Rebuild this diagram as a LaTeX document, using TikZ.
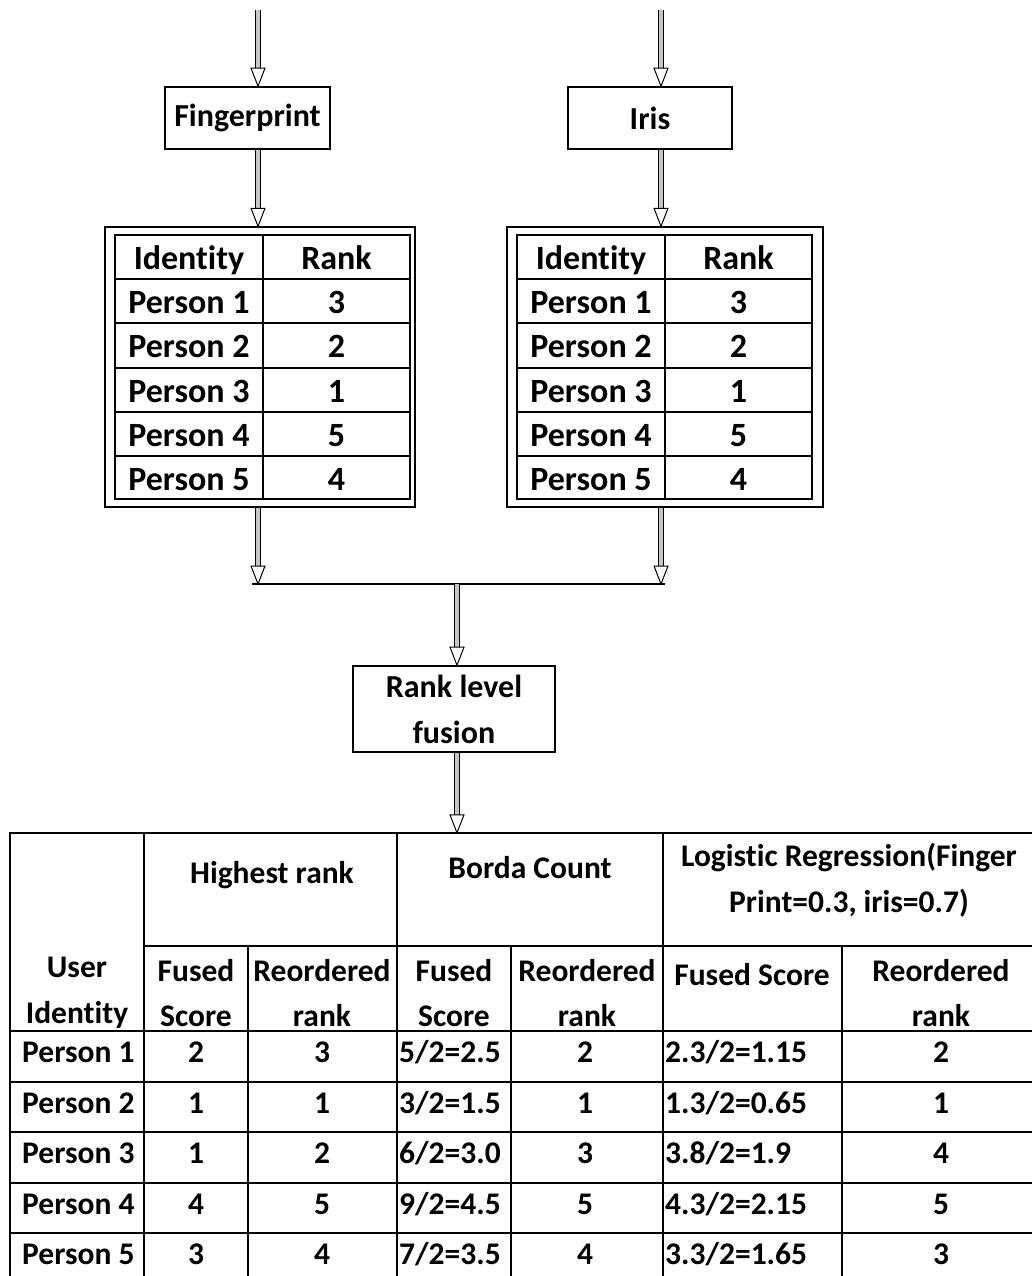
\documentclass[tikz,border=0pt]{standalone}
\usepackage{fontspec}
\setmainfont{Carlito}[Ligatures=NoCommon]
\usetikzlibrary{decorations.markings}
\newcommand\fxBox{\fontsize{32}{46}\selectfont\bfseries}
\newcommand\fxTab{\fontsize{34}{40}\selectfont\bfseries}
\newcommand\fxRes{\fontsize{31.5}{45.5}\selectfont\bfseries}
\begin{document}
\begin{tikzpicture}[x=1pt,y=-1pt,
  grid/.style={line width=1.6pt, line cap=rect},
  box/.style={draw, line width=1.6pt, rectangle, inner sep=0pt, font=\fxBox, align=center},
  frame/.style={draw, line width=1.4pt, rectangle, inner sep=0pt},
  tcell/.style={inner sep=0pt, anchor=base, font=\fxTab},
  rcell/.style={inner sep=0pt, anchor=base, font=\fxRes},
  rhead/.style={inner sep=0pt, anchor=center, font=\fxRes, align=center},
  dbl/.style={draw=none,
    postaction={draw=black, line width=0.9pt, double=gray!45, double distance=3.4pt, shorten >=16pt},
    postaction={decorate, decoration={markings, mark=at position 1 with {
      \draw[black, line width=1pt, fill=white, line join=miter] (0pt,0pt) -- (-18pt,7pt) -- (-18pt,-7pt) -- cycle;}}}},
  ]
  \clip (0,0) rectangle (1032,1276);
  \fill[white] (0,0) rectangle (1032,1276);

  % modality boxes
  \node[box, minimum width=165pt, minimum height=62pt] (fp) at (247.5,118) {Fingerprint};
  \node[box, minimum width=164pt, minimum height=62pt] (ir) at (650,118) {Iris};

  % framed rank lists
  \node[frame, minimum width=310pt, minimum height=280pt] (fpTab) at (260,367) {};
  \node[frame, minimum width=316pt, minimum height=280pt] (irTab) at (665,367) {};
  \foreach \t/\dx in {fp/0, ir/402} {
    \begin{scope}[xshift=\dx pt]
      \draw[grid] (115,235) rectangle (410,499);
      \draw[grid] (263,235) -- (263,499);
      \foreach \y in {279,323,368,412,456} \draw[grid] (115,\y) -- (410,\y);
      \node[tcell] (\t-h1) at (189,269) {Identity};
      \node[tcell] (\t-h2) at (336.5,269) {Rank};
      \foreach \i/\r/\y in {1/3/313, 2/2/357, 3/1/402, 4/5/446, 5/4/490} {
        \node[tcell] (\t-p\i) at (189,\y) {Person \i};
        \node[tcell] (\t-r\i) at (336.5,\y) {\r};
      }
    \end{scope}
  }

  % fusion box
  \node[box, minimum width=202pt, minimum height=86pt] (fus) at (454,709) {Rank level\\fusion};

  % result table
  \node[inner sep=0pt, minimum width=1030pt, minimum height=450pt] (res) at (525,1058) {};
  \draw[grid] (10,833) rectangle (1040,1283);
  \draw[grid] (144,946) -- (1040,946);
  \foreach \y in {1031,1082,1132,1183,1233} \draw[grid] (10,\y) -- (1040,\y);
  \foreach \x in {144,397,663} \draw[grid] (\x,833) -- (\x,1283);
  \foreach \x in {248,511,842} \draw[grid] (\x,946) -- (\x,1283);

  \node[rcell] (hHR) at (272,883) {Highest rank};
  \node[rcell] (hBC) at (530,878) {Borda Count};
  \node[rhead] (hLR) at (849,880) {Logistic Regression(Finger\\Print=0.3, iris=0.7)};
  \node[rhead] (sUI) at (77,993) {User\\Identity};
  \node[rhead] (sHF) at (196,993) {Fused\\Score};
  \node[rhead] (sHR) at (322,993) {Reordered\\rank};
  \node[rhead] (sBF) at (454,993) {Fused\\Score};
  \node[rhead] (sBR) at (587,993) {Reordered\\rank};
  \node[rcell] (sLF) at (752,985) {Fused Score};
  \node[rhead] (sLR) at (941,993) {Reordered\\rank};

  \foreach \i/\a/\b/\c/\d/\e/\f/\y in {
      1/2/3/5\slash2=2.5/2/2.3\slash2=1.15/2/1062,
      2/1/1/3\slash2=1.5/1/1.3\slash2=0.65/1/1113,
      3/1/2/6\slash2=3.0/3/3.8\slash2=1.9/4/1163,
      4/4/5/9\slash2=4.5/5/4.3\slash2=2.15/5/1214,
      5/3/4/7\slash2=3.5/4/3.3\slash2=1.65/3/1264} {
    \node[rcell, anchor=base west] (d\i-id) at (22,\y) {Person \i};
    \node[rcell] (d\i-hf) at (196,\y) {\a};
    \node[rcell] (d\i-hr) at (322,\y) {\b};
    \node[rcell, anchor=base west] (d\i-bf) at (399,\y) {\c};
    \node[rcell] (d\i-br) at (585,\y) {\d};
    \node[rcell, anchor=base west] (d\i-lf) at (665,\y) {\e};
    \node[rcell] (d\i-lr) at (941,\y) {\f};
  }

  % connectors
  \coordinate (fpIn) at (258,10);
  \coordinate (irIn) at (661,10);
  \coordinate (mL) at (252,584);
  \coordinate (mR) at (665,584);
  \coordinate (mC) at (457,584);
  \draw[dbl] (fpIn) -- (fpIn |- fp.north);
  \draw[dbl] (irIn) -- (irIn |- ir.north);
  \draw[dbl] (fpIn |- fp.south) -- (fpIn |- fpTab.north);
  \draw[dbl] (irIn |- ir.south) -- (irIn |- irTab.north);
  \draw[dbl] (fpIn |- fpTab.south) -- (fpIn |- mL);
  \draw[dbl] (irIn |- irTab.south) -- (irIn |- mR);
  \draw[line width=1.8pt] (mL) -- (mR);
  \draw[dbl] (mC) -- (mC |- fus.north);
  \draw[dbl] (mC |- fus.south) -- (mC |- res.north);
\end{tikzpicture}
\end{document}
